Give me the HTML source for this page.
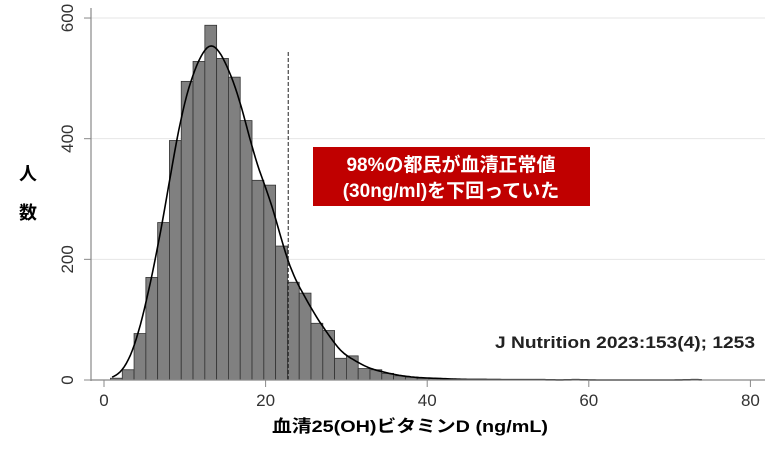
<!DOCTYPE html>
<html><head><meta charset="utf-8"><style>
body{margin:0;background:#fff;width:776px;height:449px;overflow:hidden;font-family:"Liberation Sans","Noto Sans CJK JP",sans-serif}
svg{display:block}
</style></head><body>
<svg id="chart" width="776" height="449" viewBox="0 0 776 449" xmlns="http://www.w3.org/2000/svg">
<g id="grid"></g><g id="bars"></g><g id="axes"></g>
<text x="28" y="180" font-size="18" font-weight="bold" text-anchor="middle" font-family="Liberation Sans, Noto Sans CJK JP, sans-serif">人</text>
<text x="28" y="219" font-size="18" font-weight="bold" text-anchor="middle" font-family="Liberation Sans, Noto Sans CJK JP, sans-serif">数</text>
<text x="272" y="432" font-size="17" font-weight="bold" textLength="276" lengthAdjust="spacingAndGlyphs" font-family="Liberation Sans, Noto Sans CJK JP, sans-serif">血清25(OH)ビタミンD (ng/mL)</text>
<rect x="313" y="147" width="277" height="59" fill="#c00000"/>
<text x="451" y="171" font-size="19" font-weight="bold" fill="#fff" text-anchor="middle" font-family="Liberation Sans, Noto Sans CJK JP, sans-serif">98%の都民が血清正常値</text>
<text x="451" y="197" font-size="19" font-weight="bold" fill="#fff" text-anchor="middle" font-family="Liberation Sans, Noto Sans CJK JP, sans-serif">(30ng/ml)を下回っていた</text>
<text x="495" y="348" font-size="17" font-weight="bold" fill="#222" textLength="260" lengthAdjust="spacingAndGlyphs">J Nutrition 2023:153(4); 1253</text>
</svg>
<script>
const binStart = 0.8;
const binWidth = 1.46;
const counts = [3,17,77,170,261,397,495,528,588,533,502,430,331,323,222,162,144,94,82,36,40,19,17,11,7,5,3,3,2,1,1,1,1,0,1,0,1,0,0,1,0,0,0,0,0,0,0,0,0,1];
const xTicks = [0,20,40,60,80];
const yTicks = [0,200,400,600];
const cutoff = 22.8;
const NS="http://www.w3.org/2000/svg";
const X=v=>104+v*8.08, Y=v=>380-v*0.6033;
function el(t,a,p){const e=document.createElementNS(NS,t);for(const k in a)e.setAttribute(k,a[k]);document.getElementById(p).appendChild(e);return e;}
yTicks.forEach(t=>{if(t>0){const g=el('line',{x1:91,x2:765,y1:Y(t),y2:Y(t),stroke:'#e6e6e6','stroke-width':1},'grid');

}});
counts.forEach((c,i)=>{const x0=binStart+i*binWidth;const h=Math.max(c*0.6033,0);
const r=el('rect',{x:X(x0),y:Y(c),width:binWidth*8.08,height:h,fill:'#808080',stroke:'#333','stroke-width':0.8},'bars');

});
let d='';const bw=1.3;
for(let x=1;x<=74;x+=0.25){let s=0;counts.forEach((c,i)=>{const m=binStart+(i+0.5)*binWidth;s+=c*Math.exp(-0.5*((x-m)/bw)**2)/(bw*Math.sqrt(2*Math.PI))*binWidth;});
d+=(d?'L':'M')+X(x).toFixed(1)+','+Y(s).toFixed(1);}
const k=el('path',{d:d,fill:'none',stroke:'#000','stroke-width':1.6},'bars');


const dl=el('line',{x1:X(cutoff),x2:X(cutoff),y1:52,y2:380,stroke:'#222','stroke-width':1,'stroke-dasharray':'4,2'},'bars');


const ya=el('line',{x1:91,x2:91,y1:8,y2:381,stroke:'#888','stroke-width':1.2},'axes');


const xa=el('line',{x1:91,x2:765,y1:380,y2:380,stroke:'#888','stroke-width':1.2},'axes');


yTicks.forEach(t=>{el('line',{x1:84,x2:91,y1:Y(t),y2:Y(t),stroke:'#888'},'axes');
const tx=el('text',{x:0,y:0,'font-size':17,fill:'#333','text-anchor':'middle',transform:`translate(73,${Y(t)}) rotate(-90)`},'axes');tx.textContent=t;

});
xTicks.forEach(t=>{el('line',{x1:X(t),x2:X(t),y1:380,y2:387,stroke:'#888'},'axes');
const tx=el('text',{x:X(t),y:406,'font-size':17,fill:'#333','text-anchor':'middle'},'axes');tx.textContent=t;

});
</script>
</body></html>
